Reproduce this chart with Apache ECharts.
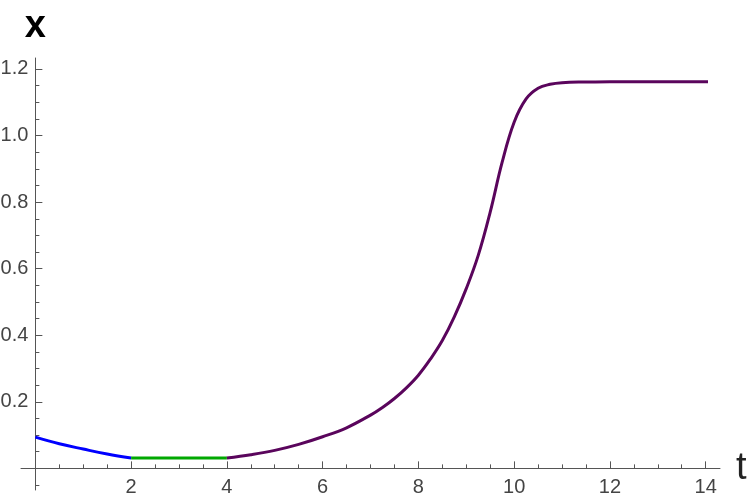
<!DOCTYPE html>
<html>
<head>
<meta charset="utf-8">
<script src="https://cdn.jsdelivr.net/npm/echarts@6/dist/echarts.min.js"></script>
<style>
html, body { margin: 0; padding: 0; background: #fff; }
#chart { width: 750px; height: 501px; }
</style>
</head>
<body>
<div id="chart"></div>
<script>
'use strict';

// curve pieces (t, x)
const tBlue = [0, 0.5, 1, 1.5, 2];
const xBlue = [0.094, 0.074, 0.058, 0.043, 0.031];

const tGreen = [2, 3, 4];
const xGreen = [0.031, 0.031, 0.031];

const tPurple = [4, 4.5, 5, 5.5, 6, 6.5, 7, 7.25, 7.5, 7.75, 8, 8.25, 8.5, 8.75, 9, 9.25, 9.5, 9.75, 10, 10.25, 10.5, 10.75, 11, 11.5, 12, 13, 14.05];
const xPurple = [0.031, 0.041, 0.054, 0.072, 0.095, 0.122, 0.160, 0.183, 0.210, 0.242, 0.280, 0.328, 0.384, 0.455, 0.540, 0.640, 0.770, 0.920, 1.040, 1.110, 1.142, 1.154, 1.159, 1.161, 1.162, 1.162, 1.162];

// axis ticks
const tTicks = [2, 4, 6, 8, 10, 12, 14];
const tMinor = [0.5, 1, 1.5, 2.5, 3, 3.5, 4.5, 5, 5.5, 6.5, 7, 7.5, 8.5, 9, 9.5, 10.5, 11, 11.5, 12.5, 13, 13.5];
const xTicks = [0.2, 0.4, 0.6, 0.8, 1.0, 1.2];
const xMinor = [-0.05, 0.05, 0.1, 0.15, 0.25, 0.3, 0.35, 0.45, 0.5, 0.55, 0.65, 0.7, 0.75, 0.85, 0.9, 0.95, 1.05, 1.1, 1.15];

const T_MIN = -0.3, T_MAX = 14.3;
const X_MIN = -0.065, X_MAX = 1.233;

const GRID = { left: 21, right: 30, top: 58, bottom: 11 };
const W = 750, H = 501;

// axes cross at (0, 0): shift them in from the grid edges
const yAxisShift = -(0 - T_MIN) / (T_MAX - T_MIN) * (W - GRID.left - GRID.right);
const xAxisShift = -(0 - X_MIN) / (X_MAX - X_MIN) * (H - GRID.top - GRID.bottom);

const AXIS_COLOR = '#555';
const LABEL_COLOR = '#444';
const FONT = '"Liberation Sans", Arial, sans-serif';

const pairs = (ts, xs) => ts.map((t, i) => [t, xs[i]]);

const lineSeries = (data, color) => ({
	type: 'line',
	data: data,
	xAxisIndex: 0,
	yAxisIndex: 0,
	showSymbol: false,
	smooth: 0.4,
	lineStyle: { color: color, width: 3 },
	silent: true,
	z: 3
});

const chart = echarts.init(document.getElementById('chart'));

chart.setOption({
	animation: false,
	backgroundColor: '#fff',
	grid: Object.assign({ outerBoundsMode: 'none' }, GRID),
	xAxis: [{
		type: 'value',
		min: T_MIN,
		max: T_MAX,
		position: 'bottom',
		offset: xAxisShift,
		name: 't',
		nameLocation: 'end',
		nameGap: 16,
		nameTextStyle: { fontFamily: FONT, fontSize: 38, color: '#222' },
		axisLine: { onZero: false, lineStyle: { color: AXIS_COLOR, width: 1 } },
		axisTick: { show: true, inside: true, length: 7, customValues: tTicks, lineStyle: { color: AXIS_COLOR } },
		axisLabel: { customValues: tTicks, margin: 9, fontFamily: FONT, fontSize: 20, color: LABEL_COLOR },
		splitLine: { show: false }
	}, {
		type: 'value',
		min: T_MIN,
		max: T_MAX,
		position: 'bottom',
		offset: xAxisShift,
		axisLine: { show: false, onZero: false },
		axisTick: { show: true, inside: true, length: 4, customValues: tMinor, lineStyle: { color: AXIS_COLOR } },
		axisLabel: { show: false },
		splitLine: { show: false }
	}],
	yAxis: [{
		type: 'value',
		min: X_MIN,
		max: X_MAX,
		position: 'left',
		offset: yAxisShift,
		name: 'x',
		nameLocation: 'end',
		nameGap: 12,
		nameTextStyle: { fontFamily: FONT, fontSize: 38, fontWeight: 'bold', color: '#000' },
		axisLine: { onZero: false, lineStyle: { color: AXIS_COLOR, width: 1 } },
		axisTick: { show: true, inside: true, length: 7, customValues: xTicks, lineStyle: { color: AXIS_COLOR } },
		axisLabel: {
			customValues: xTicks,
			margin: 7,
			fontFamily: FONT,
			fontSize: 20,
			color: LABEL_COLOR,
			formatter: v => v.toFixed(1)
		},
		splitLine: { show: false }
	}, {
		type: 'value',
		min: X_MIN,
		max: X_MAX,
		position: 'left',
		offset: yAxisShift,
		axisLine: { show: false, onZero: false },
		axisTick: { show: true, inside: true, length: 4, customValues: xMinor, lineStyle: { color: AXIS_COLOR } },
		axisLabel: { show: false },
		splitLine: { show: false }
	}],
	series: [
		lineSeries(pairs(tBlue, xBlue), '#0000ff'),
		lineSeries(pairs(tGreen, xGreen), '#00a800'),
		lineSeries(pairs(tPurple, xPurple), '#5a055c')
	]
});
</script>
</body>
</html>
